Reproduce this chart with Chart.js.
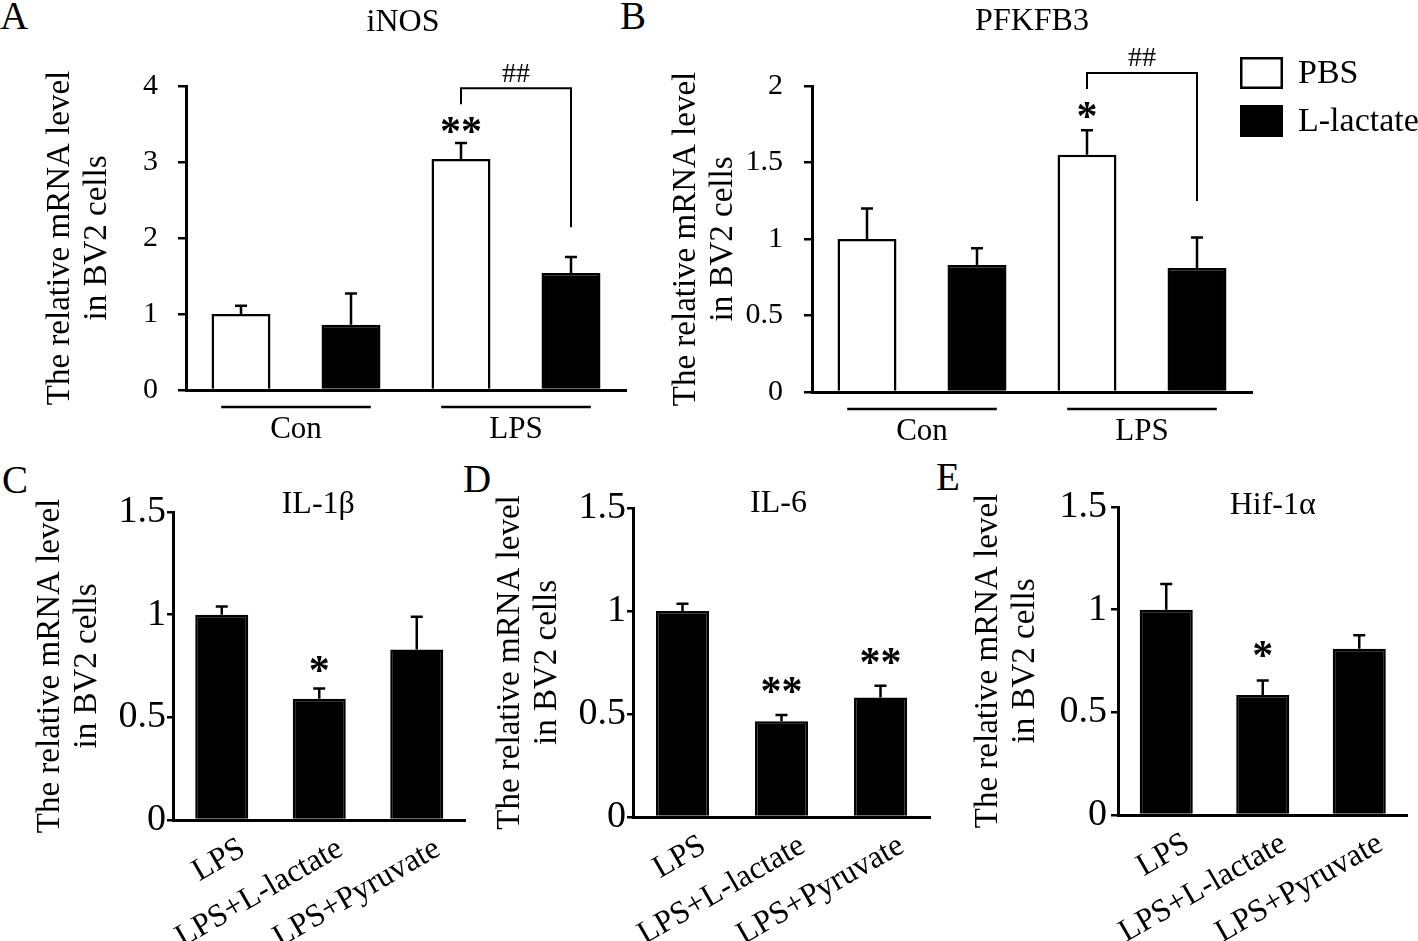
<!DOCTYPE html>
<html>
<head>
<meta charset="utf-8">
<script src="https://cdn.jsdelivr.net/npm/chart.js@4.4.0/dist/chart.umd.min.js"></script>
<style>
  body { margin: 0; background: #fff; width: 1418px; height: 941px; overflow: hidden; position: relative;
         font-family: 'Liberation Serif', 'Times New Roman', serif; }
  canvas { position: absolute; }
  .letter { position: absolute; font-size: 39px; line-height: 39px; color: #000; }
</style>
</head>
<body>
<div class="letter" style="left:0px;top:-4px">A</div>
<div class="letter" style="left:620px;top:-4px">B</div>
<div class="letter" style="left:2px;top:460px">C</div>
<div class="letter" style="left:463px;top:459px">D</div>
<div class="letter" style="left:936px;top:457px">E</div>

<canvas id="chartA" width="640" height="460" style="left:0;top:0"></canvas>
<canvas id="chartB" width="792" height="460" style="left:626px;top:0"></canvas>
<canvas id="chartC" width="470" height="481" style="left:0;top:460px"></canvas>
<canvas id="chartD" width="480" height="481" style="left:460px;top:460px"></canvas>
<canvas id="chartE" width="480" height="481" style="left:938px;top:460px"></canvas>

<script>
// top row: two treatments in two groups
const groups = ['Con', 'LPS'];
const treatments = ['PBS', 'L-lactate'];

const inosPBS = [1.0, 3.04];
const inosPBSErr = [0.11, 0.21];
const inosPBSSig = ['', '**'];
const inosLac = [0.86, 1.54];
const inosLacErr = [0.41, 0.21];

const pfkPBS = [1.0, 1.55];
const pfkPBSErr = [0.20, 0.16];
const pfkPBSSig = ['', '*'];
const pfkLac = [0.83, 0.81];
const pfkLacErr = [0.11, 0.20];

// bottom row: three conditions
const conditions = ['LPS', 'LPS+L-lactate', 'LPS+Pyruvate'];

const il1b = [1.0, 0.59, 0.83];
const il1bErr = [0.04, 0.05, 0.16];
const il1bSig = ['', '*', ''];

const il6 = [1.0, 0.465, 0.58];
const il6Err = [0.035, 0.03, 0.057];
const il6Sig = ['', '**', '**'];

const hif = [1.0, 0.585, 0.81];
const hifErr = [0.125, 0.07, 0.066];
const hifSig = ['', '*', ''];

const yLabel = ['The relative mRNA level', 'in BV2 cells'];
const FONT = "'Liberation Serif', 'Times New Roman', serif";

// error bars, stars, brackets, titles, group lines and legend
const decor = {
  id: 'decor',
  afterDatasetsDraw(chart, args, o) {
    const {ctx, chartArea: area, scales: {x, y}} = chart;
    ctx.save();
    ctx.strokeStyle = '#000';
    ctx.fillStyle = '#000';
    ctx.lineWidth = 2.5;

    const errTop = (i, j) => {
      const ds = chart.data.datasets[i];
      return y.getPixelForValue(ds.data[j] + ds.errors[j]);
    };

    chart.data.datasets.forEach((ds, i) => {
      chart.getDatasetMeta(i).data.forEach((bar, j) => {
        const top = errTop(i, j);
        ctx.beginPath();
        ctx.moveTo(bar.x, bar.y);
        ctx.lineTo(bar.x, top);
        ctx.moveTo(bar.x - o.cap, top);
        ctx.lineTo(bar.x + o.cap, top);
        ctx.stroke();

        if (ds.sig && ds.sig[j]) {
          ctx.font = `bold 42px ${FONT}`;
          ctx.textAlign = 'center';
          ctx.textBaseline = 'alphabetic';
          ctx.fillText(ds.sig[j], bar.x, top - o.sigGap + 20);
        }
      });
    });

    // title
    ctx.font = `32px ${FONT}`;
    ctx.textAlign = 'center';
    ctx.textBaseline = 'middle';
    ctx.fillText(o.title, (area.left + area.right) / 2 + (o.titleDx || 0), o.titleY);

    // comparison bracket
    if (o.bracket) {
      const b = o.bracket;
      const xa = chart.getDatasetMeta(b.from[0]).data[b.from[1]].x;
      const xb = chart.getDatasetMeta(b.to[0]).data[b.to[1]].x;
      const yt = y.getPixelForValue(b.top);
      ctx.lineWidth = 2;
      ctx.beginPath();
      ctx.moveTo(xa, y.getPixelForValue(b.ends[0]));
      ctx.lineTo(xa, yt);
      ctx.lineTo(xb, yt);
      ctx.lineTo(xb, y.getPixelForValue(b.ends[1]));
      ctx.stroke();
      ctx.font = `28px ${FONT}`;
      ctx.fillText(b.text, (xa + xb) / 2, yt - 14);
    }

    // lines under the groups
    if (o.underline) {
      const half = 0.34 * area.width / chart.data.labels.length;
      ctx.lineWidth = 2.5;
      chart.data.labels.forEach((lab, i) => {
        const cx = x.getPixelForValue(i);
        ctx.beginPath();
        ctx.moveTo(cx - half, area.bottom + 17);
        ctx.lineTo(cx + half, area.bottom + 17);
        ctx.stroke();
      });
    }

    // legend
    if (o.legend) {
      const lx = area.right - 12;
      ctx.font = `34px ${FONT}`;
      ctx.textAlign = 'left';
      chart.data.datasets.forEach((ds, i) => {
        const ly = 57 + i * 48;
        ctx.fillStyle = ds.backgroundColor;
        ctx.fillRect(lx, ly, 43, 32);
        ctx.lineWidth = 2.5;
        ctx.strokeRect(lx + 1.25, ly + 1.25, 40.5, 29.5);
        ctx.fillStyle = '#000';
        ctx.fillText(ds.label, lx + 58, ly + 17);
      });
    }
    ctx.restore();
  }
};

function yAxis(max, step, p) {
  return {
    min: 0,
    max: max,
    ticks: {
      stepSize: step, color: '#000', padding: p.tickPad,
      font: {family: FONT, size: p.tickSize},
      callback: v => String(v)
    },
    grid: {drawOnChartArea: false, drawTicks: true, tickLength: p.tickLen, color: '#000', lineWidth: 2.5},
    border: {color: '#000', width: 3},
    title: {
      display: true, text: yLabel, color: '#000',
      font: {family: FONT, size: 33, lineHeight: 1.12},
      padding: {top: p.titlePad, bottom: 0}
    },
    afterFit: s => { s.width = p.width; }
  };
}

function xAxis(p) {
  return {
    grid: {display: false, drawTicks: false},
    border: {color: '#000', width: 3},
    ticks: {
      color: '#000', autoSkip: false, padding: p.pad,
      minRotation: p.rot, maxRotation: p.rot, labelOffset: p.offset || 0,
      font: {family: FONT, size: p.size}
    },
    afterFit: s => { s.height = p.height; }
  };
}

function makeChart(id, labels, datasets, scales, padding, barPct, decorOpts) {
  return new Chart(document.getElementById(id), {
    type: 'bar',
    data: {labels, datasets},
    options: {
      responsive: false,
      animation: false,
      layout: {padding},
      datasets: {bar: {categoryPercentage: 1.0, barPercentage: barPct}},
      plugins: {legend: {display: false}, tooltip: {enabled: false}, decor: decorOpts},
      scales
    },
    plugins: [decor]
  });
}

function bars(label, data, errors, fill, sig) {
  return {label, data, errors, sig, backgroundColor: fill, borderColor: '#000', borderWidth: 2.5};
}

// A
makeChart('chartA', groups,
  [bars(treatments[0], inosPBS, inosPBSErr, '#ffffff', inosPBSSig),
   bars(treatments[1], inosLac, inosLacErr, '#000000')],
  {
    x: xAxis({size: 31, pad: 21, rot: 0, height: 70}),
    y: yAxis(4, 1, {tickSize: 30, tickPad: 20, tickLen: 8, titlePad: 41.5, width: 186})
  },
  {left: 0, right: 14, top: 86, bottom: 0}, 0.536,
  {title: 'iNOS', titleY: 23, titleDx: -3, cap: 6, sigGap: 18, underline: true,
   bracket: {from: [0, 1], to: [1, 1], top: 3.97, ends: [3.76, 2.14], text: '##'}});

// B
makeChart('chartB', groups,
  [bars(treatments[0], pfkPBS, pfkPBSErr, '#ffffff', pfkPBSSig),
   bars(treatments[1], pfkLac, pfkLacErr, '#000000')],
  {
    x: xAxis({size: 31, pad: 21, rot: 0, height: 68}),
    y: yAxis(2, 0.5, {tickSize: 30, tickPad: 21, tickLen: 8, titlePad: 41.5, width: 186})
  },
  {left: 0, right: 166, top: 86, bottom: 0}, 0.536,
  {title: 'PFKFB3', titleY: 22, cap: 6, sigGap: 20, underline: true, legend: true,
   bracket: {from: [0, 1], to: [1, 1], top: 2.085, ends: [1.98, 1.248], text: '##'}});

// C
makeChart('chartC', conditions,
  [bars('IL-1β', il1b, il1bErr, '#000000', il1bSig)],
  {
    x: xAxis({size: 32, pad: 10, rot: 30, offset: 21, height: 121}),
    y: yAxis(1.5, 0.5, {tickSize: 38, tickPad: 1, tickLen: 6, titlePad: 31.5, width: 173})
  },
  {left: 0, right: 4.5, top: 52, bottom: 0}, 0.544,
  {title: 'IL-1β', titleY: 45, titleDx: -1, cap: 6, sigGap: 25});

// D
makeChart('chartD', conditions,
  [bars('IL-6', il6, il6Err, '#000000', il6Sig)],
  {
    x: xAxis({size: 32, pad: 10, rot: 30, offset: 21, height: 124}),
    y: yAxis(1.5, 0.5, {tickSize: 38, tickPad: 1, tickLen: 6, titlePad: 31.5, width: 173})
  },
  {left: 0, right: 10, top: 48, bottom: 0}, 0.535,
  {title: 'IL-6', titleY: 44, titleDx: -3, cap: 6, sigGap: 30});

// E
makeChart('chartE', conditions,
  [bars('Hif-1α', hif, hifErr, '#000000', hifSig)],
  {
    x: xAxis({size: 32, pad: 10, rot: 30, offset: 21, height: 126}),
    y: yAxis(1.5, 0.5, {tickSize: 38, tickPad: 4, tickLen: 7, titlePad: 31.5, width: 180})
  },
  {left: 0, right: 10.5, top: 47, bottom: 0}, 0.55,
  {title: 'Hif-1α', titleY: 46, titleDx: 10, cap: 6, sigGap: 32});
</script>
</body>
</html>
